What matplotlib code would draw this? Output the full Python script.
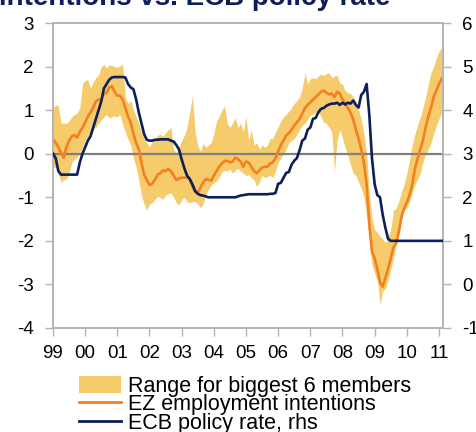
import numpy as np
import matplotlib
matplotlib.use("Agg")
import matplotlib.pyplot as plt
from matplotlib.patches import Patch
from matplotlib.lines import Line2D

plt.rcParams['font.family'] = ['Liberation Sans', 'DejaVu Sans']
plt.rcParams['axes.unicode_minus'] = False

# monthly data, Jan 1999 .. Feb 2011 (one row per year)
range_high = [
    1.06, 1.12, 1.10, 0.70, 0.70, 0.70, 0.75, 0.85, 0.90, 0.93, 1.05, 1.60,
    1.68, 1.70, 1.50, 1.65, 1.75, 1.80, 2.00, 2.05, 1.97, 2.05, 2.02, 2.00,
    1.98, 2.02, 2.05, 1.30, 1.15, 1.22, 1.02, 0.85, 0.70, 0.50, 0.35, 0.25,
    0.15, 0.28, 0.35, 0.42, 0.45, 0.40, 0.48, 0.55, 0.60, 0.10, 0.02, 0.15,
    0.30, 0.42, 0.60, 0.95, 1.33, 0.50, 0.20, 0.05, 0.23, 0.15, 0.20, 0.25,
    0.45, 0.75, 0.85, 1.00, 1.10, 0.70, 0.60, 0.70, 0.83, 0.60, 0.70, 0.50,
    0.85, 0.30, 0.55, 0.20, 0.25, 0.10, 0.20, 0.15, 0.20, 0.35, 0.35, 0.50,
    0.62, 0.75, 0.85, 0.90, 0.98, 1.05, 1.15, 1.22, 1.30, 1.50, 1.86, 1.60,
    1.72, 1.75, 1.72, 1.78, 1.83, 1.80, 1.84, 1.86, 1.75, 1.78, 1.80, 1.62,
    1.60, 1.44, 1.40, 1.38, 1.30, 1.20, 1.00, 0.80, 0.45, 0.00, -0.90, -1.47,
    -1.75, -1.80, -1.90, -1.95, -2.05, -1.90, -1.75, -1.30, -1.25, -1.10, -0.88, -0.70,
    -0.45, -0.15, 0.20, 0.45, 0.65, 0.83, 1.05, 1.30, 1.60, 1.85, 2.00, 2.20,
    2.35, 2.45,
]
range_low = [
    -0.32, -0.30, -0.45, -0.66, -0.60, -0.58, -0.45, -0.20, -0.12, -0.08, 0.00, 0.15,
    0.30, 0.40, 0.50, 0.58, 0.60, 0.70, 0.78, 0.85, 0.90, 0.82, 0.85, 0.86,
    0.85, 0.90, 0.68, 0.50, 0.33, 0.20, -0.10, -0.30, -0.60, -0.95, -1.15, -1.30,
    -1.15, -1.12, -1.05, -0.98, -1.00, -1.05, -0.95, -0.92, -0.90, -1.00, -1.12, -1.18,
    -1.05, -1.00, -1.10, -1.12, -1.10, -1.10, -1.15, -1.24, -1.15, -0.95, -0.82, -0.72,
    -0.66, -0.62, -0.55, -0.42, -0.38, -0.40, -0.35, -0.45, -0.38, -0.33, -0.40, -0.45,
    -0.50, -0.48, -0.55, -0.60, -0.75, -0.65, -0.50, -0.55, -0.52, -0.50, -0.55, -0.40,
    -0.20, -0.10, 0.00, 0.10, 0.25, 0.30, 0.35, 0.45, 0.55, 0.65, 0.70, 0.80,
    0.88, 0.90, 0.95, 0.95, 0.85, 0.72, 0.70, 0.60, 0.50, -0.40, 0.30, 0.55,
    0.35, 0.15, -0.05, -0.25, -0.45, -0.50, -0.65, -0.80, -1.00, -1.40, -2.00, -2.55,
    -2.75, -2.90, -3.45, -3.15, -3.10, -2.90, -2.65, -2.40, -2.10, -1.85, -1.50, -1.30,
    -1.25, -1.10, -0.90, -0.70, -0.60, -0.45, -0.20, 0.00, 0.10, 0.25, 0.45, 0.65,
    0.80, 0.95,
]
ez_intentions = [
    0.34, 0.25, 0.15, 0.02, -0.09, 0.15, 0.30, 0.40, 0.43, 0.37, 0.50, 0.60,
    0.72, 0.85, 0.95, 1.06, 1.20, 1.24, 1.25, 1.37, 1.40, 1.52, 1.55, 1.42,
    1.33, 1.33, 1.25, 1.05, 0.85, 0.72, 0.46, 0.25, 0.10, -0.20, -0.48, -0.60,
    -0.72, -0.69, -0.60, -0.48, -0.45, -0.38, -0.40, -0.35, -0.40, -0.50, -0.60, -0.57,
    -0.55, -0.55, -0.55, -0.57, -0.75, -0.88, -0.90, -0.78, -0.66, -0.58, -0.60, -0.62,
    -0.50, -0.40, -0.30, -0.22, -0.17, -0.16, -0.20, -0.18, -0.09, -0.12, -0.18, -0.30,
    -0.18, -0.20, -0.30, -0.40, -0.45, -0.38, -0.32, -0.30, -0.30, -0.22, -0.20, -0.10,
    0.05, 0.20, 0.30, 0.42, 0.47, 0.55, 0.65, 0.72, 0.80, 0.92, 1.05, 1.12,
    1.18, 1.24, 1.30, 1.36, 1.42, 1.45, 1.40, 1.36, 1.38, 1.30, 1.42, 1.38,
    1.25, 1.15, 1.05, 0.95, 0.78, 0.55, 0.35, 0.10, -0.20, -0.70, -1.60, -2.25,
    -2.40, -2.65, -2.95, -3.05, -2.85, -2.65, -2.40, -2.15, -2.05, -1.80, -1.45, -1.25,
    -1.12, -0.95, -0.72, -0.35, -0.12, 0.10, 0.30, 0.60, 0.85, 1.05, 1.30, 1.45,
    1.60, 1.72,
]
ecb_rate = [
    3.00, 2.90, 2.60, 2.52, 2.52, 2.52, 2.52, 2.52, 2.52, 2.52, 2.80, 3.00,
    3.15, 3.30, 3.40, 3.60, 3.80, 4.00, 4.20, 4.50, 4.60, 4.70, 4.75, 4.76,
    4.76, 4.76, 4.76, 4.75, 4.60, 4.52, 4.48, 4.25, 3.95, 3.70, 3.45, 3.32,
    3.30, 3.30, 3.32, 3.32, 3.33, 3.33, 3.33, 3.33, 3.30, 3.28, 3.20, 3.10,
    2.87, 2.67, 2.50, 2.42, 2.30, 2.15, 2.08, 2.05, 2.04, 2.02, 2.00, 2.00,
    2.00, 2.00, 2.00, 2.00, 2.00, 2.00, 2.00, 2.00, 2.00, 2.02, 2.04, 2.05,
    2.06, 2.07, 2.07, 2.07, 2.07, 2.07, 2.07, 2.07, 2.07, 2.08, 2.08, 2.10,
    2.31, 2.33, 2.45, 2.56, 2.58, 2.75, 2.84, 2.90, 3.08, 3.30, 3.35, 3.55,
    3.60, 3.80, 3.82, 3.95, 4.03, 4.05, 4.10, 4.13, 4.15, 4.15, 4.17, 4.12,
    4.17, 4.13, 4.17, 4.15, 4.22, 4.12, 4.06, 4.35, 4.42, 4.60, 3.90, 2.90,
    2.30, 2.05, 2.00, 1.60, 1.30, 1.05, 1.00, 1.00, 1.00, 1.00, 1.00, 1.00,
    1.00, 1.00, 1.00, 1.00, 1.00, 1.00, 1.00, 1.00, 1.00, 1.00, 1.00, 1.00,
    1.00, 1.00,
]
year_labels = ['99', '00', '01', '02', '03', '04', '05', '06', '07', '08', '09', '10', '11']

band_col = '#F5CB6B'
orange = '#F57F20'
navy = '#0C1F5B'
grid_col = '#B3B3B3'

months = np.arange(len(ez_intentions))

fig = plt.figure(figsize=(4.77, 4.32), dpi=100)
ax = fig.add_axes([53/477, 1 - 328/432, 390/477, 305/432])

ax.fill_between(months, range_low, range_high, color=band_col, lw=0, zorder=1)
ax.axhline(0, color='#808080', lw=1.6, zorder=2)
ax.plot(months, ez_intentions, color=orange, lw=1.9, zorder=3)

ax.set_xlim(0, 145.5)
ax.set_ylim(-4, 3)
ax.set_yticks(range(-4, 4))
ax.set_xticks(np.arange(0, 145, 12))
ax.set_xticklabels(year_labels)

ax2 = ax.twinx()
ax2.plot(months, ecb_rate, color=navy, lw=1.9, zorder=4)
ax2.set_ylim(-1, 6)
ax2.set_yticks(range(-1, 7))
ax2.set_xlim(0, 145.5)

for a in (ax, ax2):
    for s in a.spines.values():
        s.set_color(grid_col)
        s.set_linewidth(1.2)
    a.tick_params(colors=grid_col, labelcolor='black', labelsize=13.5,
                  length=5.5, width=1.0, pad=8.5)
ax.tick_params(axis='x', pad=7)

fig.text(-0.002, 1 - 5/432, 'intentions vs. ECB policy rate', fontsize=20,
         fontweight='bold', color=navy, ha='left', va='baseline')

handles = [Patch(facecolor=band_col, edgecolor='none'),
           Line2D([], [], color=orange, lw=2),
           Line2D([], [], color=navy, lw=2)]
labels = ['Range for biggest 6 members', 'EZ employment intentions', 'ECB policy rate, rhs']
fig.legend(handles, labels, loc='upper left', bbox_to_anchor=(79/477, 1 - 376/432),
           frameon=False, fontsize=15.5, borderpad=0, borderaxespad=0,
           handlelength=1.95, handleheight=0.85, handletextpad=0.33, labelspacing=-0.12)

fig.savefig('out.png', dpi=100)
